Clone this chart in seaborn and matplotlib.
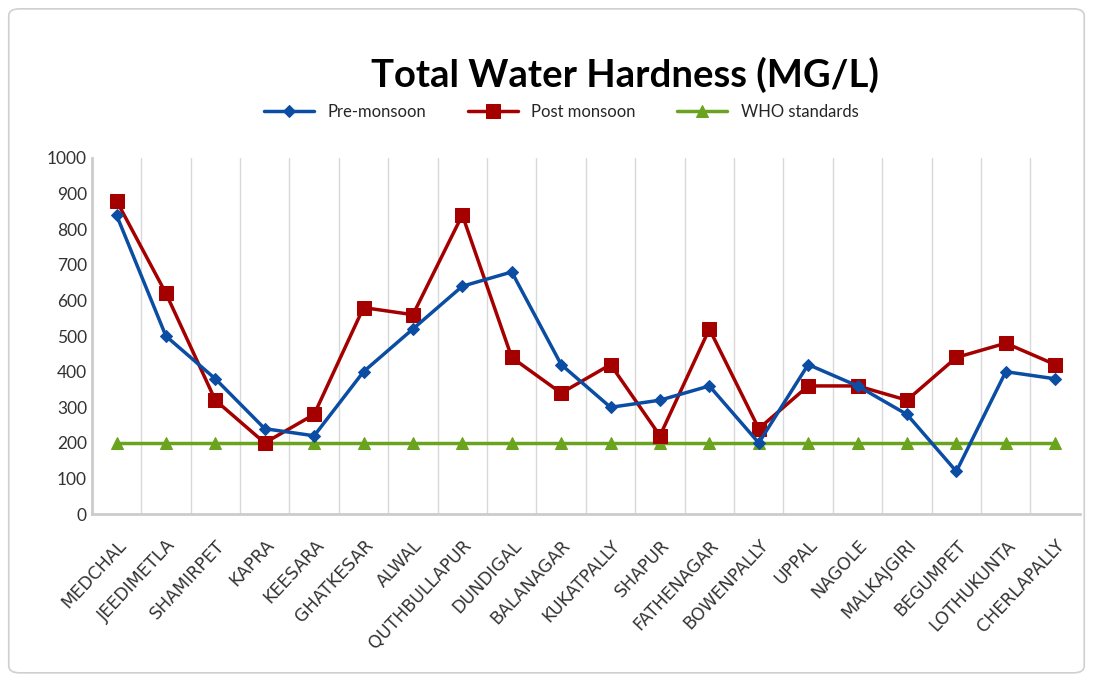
import matplotlib
matplotlib.use("Agg")
import matplotlib.pyplot as plt
import seaborn as sns
import pandas as pd
from matplotlib.patches import FancyBboxPatch

locations = ["MEDCHAL", "JEEDIMETLA", "SHAMIRPET", "KAPRA", "KEESARA", "GHATKESAR",
             "ALWAL", "QUTHBULLAPUR", "DUNDIGAL", "BALANAGAR", "KUKATPALLY", "SHAPUR",
             "FATHENAGAR", "BOWENPALLY", "UPPAL", "NAGOLE", "MALKAJGIRI", "BEGUMPET",
             "LOTHUKUNTA", "CHERLAPALLY"]
pre_monsoon = [840, 500, 380, 240, 220, 400, 520, 640, 680, 420,
               300, 320, 360, 200, 420, 360, 280, 120, 400, 380]
post_monsoon = [880, 620, 320, 200, 280, 580, 560, 840, 440, 340,
                420, 220, 520, 240, 360, 360, 320, 440, 480, 420]
who_standards = [200] * 20
series_names = ["Pre-monsoon", "Post monsoon", "WHO standards"]
yticks = [0, 100, 200, 300, 400, 500, 600, 700, 800, 900, 1000]

sns.set_theme(style="white")
plt.rcParams['font.family'] = ['Lato', 'DejaVu Sans']

df = pd.DataFrame({
    "Location": locations * 3,
    "Hardness": pre_monsoon + post_monsoon + who_standards,
    "Series": [series_names[0]] * 20 + [series_names[1]] * 20 + [series_names[2]] * 20,
})

fig = plt.figure(figsize=(10.93, 6.81), dpi=100)
fig.patches.append(FancyBboxPatch((0.008, 0.012), 0.984, 0.975,
                                  boxstyle="round,pad=0,rounding_size=0.01",
                                  transform=fig.transFigure, facecolor="white",
                                  edgecolor="#d0d0d0", linewidth=1.2, zorder=-1))
ax = fig.add_axes([0.084, 0.245, 0.904, 0.523])

palette = {"Pre-monsoon": "#0b4da2", "Post monsoon": "#a50000", "WHO standards": "#6aa31e"}
markers = {"Pre-monsoon": "D", "Post monsoon": "s", "WHO standards": "^"}
sizes_m = {"Pre-monsoon": 6.5, "Post monsoon": 10, "WHO standards": 9}

for name in series_names:
    sub = df[df["Series"] == name]
    sns.lineplot(data=sub, x="Location", y="Hardness", ax=ax, color=palette[name],
                 marker=markers[name], markersize=sizes_m[name], linewidth=2.5,
                 markeredgecolor=palette[name], label=name, sort=False,
                 zorder={"Pre-monsoon": 4, "Post monsoon": 3, "WHO standards": 2}[name])

ax.set_xlim(-0.5, len(locations) - 0.5)
ax.set_ylim(0, 1000)
ax.set_xticks([i + 0.5 for i in range(len(locations) - 1)], minor=True)
ax.grid(False)
ax.grid(True, axis="x", which="minor", color="#d9d9d9", linewidth=1)
ax.tick_params(axis="both", which="both", length=0)
ax.tick_params(axis="x", pad=16)
ax.set_yticks(yticks)
ax.set_yticklabels([str(v) for v in yticks], fontsize=12.5, color="#333333")
ax.set_xticks(range(len(locations)))
ax.set_xticklabels(locations, rotation=47, ha="right", rotation_mode="anchor",
                   fontsize=12.5, color="#333333")
for lbl in ax.get_xticklabels():
    lbl.set_fontfamily(["DejaVu Sans"])
ax.set_xlabel("")
ax.set_ylabel("")
for s in ["top", "right"]:
    ax.spines[s].set_visible(False)
for s in ["left", "bottom"]:
    ax.spines[s].set_color("#cccccc")
    ax.spines[s].set_linewidth(2)

ax.legend(loc="lower center", bbox_to_anchor=(0.475, 1.065), ncol=3, frameon=False,
          fontsize=12, handlelength=3, columnspacing=2.5)
fig.text(0.572, 0.89, "Total Water Hardness (MG/L)", ha="center", va="center",
         fontsize=27.5, fontweight="bold", color="black")

fig.savefig("out.png", dpi=100)
